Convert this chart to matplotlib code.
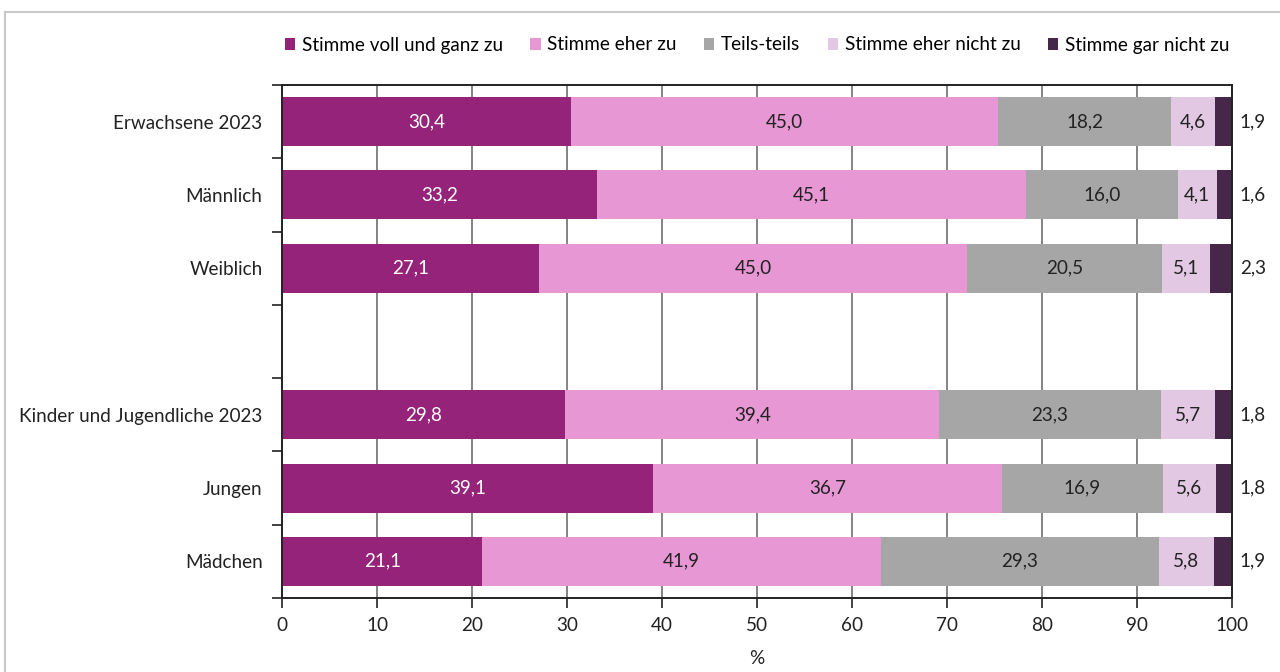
import matplotlib
matplotlib.use("Agg")
import matplotlib.pyplot as plt
from matplotlib.lines import Line2D
import numpy as np

categories = ["Erwachsene 2023", "Männlich", "Weiblich", "",
              "Kinder und Jugendliche 2023", "Jungen", "Mädchen"]
series_names = ["Stimme voll und ganz zu", "Stimme eher zu", "Teils-teils",
                "Stimme eher nicht zu", "Stimme gar nicht zu"]
voll = [30.4, 33.2, 27.1, None, 29.8, 39.1, 21.1]
eher = [45.0, 45.1, 45.0, None, 39.4, 36.7, 41.9]
teils = [18.2, 16.0, 20.5, None, 23.3, 16.9, 29.3]
eher_nicht = [4.6, 4.1, 5.1, None, 5.7, 5.6, 5.8]
gar_nicht = [1.9, 1.6, 2.3, None, 1.8, 1.8, 1.9]
x_ticks = [0, 10, 20, 30, 40, 50, 60, 70, 80, 90, 100]

colors = ["#96237A", "#E797D4", "#A6A6A6", "#E2C8E3", "#472749"]
text_colors = ["white", "#222222", "#222222", "#222222", "#222222"]

plt.rcParams['font.family'] = ['Lato', 'DejaVu Sans']
FS = 13.6

fig = plt.figure(figsize=(12.8, 6.72), dpi=100)
ax = fig.add_axes([282/1280, 1-598/672, (1232-282)/1280, (598-85)/672])

# outer frame (top and left lines)
fig.add_artist(Line2D([5/1280, 1.1], [1-12/672, 1-12/672], color="#C8C8C8", lw=1.5, transform=fig.transFigure))
fig.add_artist(Line2D([5/1280, 5/1280], [1-12/672, -0.1], color="#C8C8C8", lw=1.5, transform=fig.transFigure))

series = [voll, eher, teils, eher_nicht, gar_nicht]
y = np.arange(len(categories))
left = np.zeros(len(categories))
for si, (vals, col, tc, name) in enumerate(zip(series, colors, text_colors, series_names)):
    v = np.array([np.nan if a is None else a for a in vals], dtype=float)
    mask = ~np.isnan(v)
    ax.barh(y[mask], v[mask], left=left[mask], height=0.67, color=col,
            label=name, zorder=3, edgecolor="none")
    for yi, vi, li in zip(y[mask], v[mask], left[mask]):
        lab = f"{vi:.1f}".replace(".", ",")
        if si < 4:
            ax.text(li + vi / 2, yi, lab, ha="center", va="center", color=tc,
                    fontsize=FS, zorder=4)
        else:
            ax.text(102.2, yi, lab, ha="center", va="center", color="#222222",
                    fontsize=FS, zorder=4, clip_on=False)
    left[mask] += v[mask]

ax.set_xlim(0, 100)
ax.set_ylim(len(categories) - 0.5, -0.5)
ax.set_xticks(x_ticks)
ax.set_xticklabels([str(t) for t in x_ticks], fontsize=FS, color="#222222")
ax.set_yticks(y)
ax.set_yticklabels(categories, fontsize=FS, color="#222222")
ax.set_yticks(np.arange(-0.5, len(categories) + 0.5, 1), minor=True)
ax.tick_params(axis="y", which="major", length=0, pad=14)
ax.tick_params(axis="y", which="minor", length=7, width=1.2, color="#222222", direction="out")
ax.tick_params(axis="x", which="major", length=7, width=1.2, color="#222222", direction="out", pad=7)
ax.grid(axis="x", color="#6E6E6E", lw=1.2, zorder=0)
for s in ax.spines.values():
    s.set_color("#222222")
    s.set_linewidth(1.4)
    s.set_zorder(5)
ax.set_xlabel("%", fontsize=FS, color="#222222", labelpad=11)

handles, labels = ax.get_legend_handles_labels()
fig.legend(handles, labels, loc="center", bbox_to_anchor=(757/1280, 1-45/672),
           ncol=5, frameon=False, fontsize=FS, handlelength=0.55, handleheight=0.55,
           handletextpad=0.35, columnspacing=1.45)

fig.savefig("out.png", dpi=100)
